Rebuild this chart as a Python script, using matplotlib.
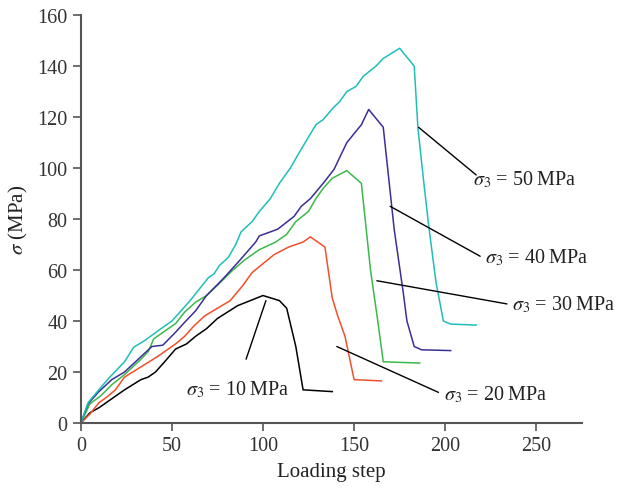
# Stress vs loading step curves at five confining pressures.
import matplotlib.pyplot as plt

plt.rcParams["font.family"] = "Liberation Serif"
plt.rcParams["mathtext.fontset"] = "stix"

# sigma_3 = 10 MPa
step_10 = [0, 5, 10, 16, 24, 33, 37, 41, 46, 52, 58, 63, 69, 75, 86, 100, 109, 113, 118, 122, 138]
sig_10 = [0, 4, 6, 9, 13, 17, 18, 20, 24, 29, 31, 34, 37, 41, 46, 50, 48, 45, 30, 13, 12.3]

# sigma_3 = 20 MPa
step_20 = [0, 5, 10, 14, 19, 24, 33, 42, 52, 57, 62, 68, 75, 82, 89, 94, 106, 114, 118, 122, 126,
           134, 138, 141, 145, 150, 165]
sig_20 = [0, 3.5, 8, 10, 13, 18, 22, 26, 31, 34, 38, 42, 45, 48, 54, 59, 66, 69, 70, 71, 73,
          69, 49, 42, 34, 17, 16.5]

# sigma_3 = 30 MPa
step_30 = [0, 5, 11, 17, 24, 33, 37, 40, 46, 52, 57, 63, 69, 75, 83, 90, 98, 107, 113, 118, 125,
           129, 133, 138, 146, 154, 159, 163, 166, 186]
sig_30 = [0, 7.5, 10.7, 15, 19, 25, 28, 33, 36, 39, 43.5, 47.4, 50, 54, 59.7, 64, 68, 71, 74, 79, 83,
          88, 92, 96, 99, 94, 60, 40, 24, 23.5]

# sigma_3 = 40 MPa
step_40 = [0, 4, 9.5, 17, 20.5, 24, 33, 39, 45, 52, 57, 63, 69, 78, 87, 96, 98, 108, 117, 121,
           126, 133, 139, 146, 154, 158, 166, 169, 172, 177, 179, 183, 187, 203]
sig_40 = [0, 7.5, 12, 17, 18.5, 20, 26, 30, 30.5, 35.6, 39.5, 44, 50, 56.5, 63.6, 71, 73.4, 76, 81, 85,
          88, 94, 99.5, 110, 117, 123, 116, 96, 76, 51, 40, 30, 28.7, 28.4]

# sigma_3 = 50 MPa
step_50 = [0, 4, 9.5, 15, 24, 29, 35, 44, 50, 55, 60, 65, 70, 73, 76, 81, 85, 88, 94, 98, 104,
           109, 115, 119, 124, 129, 133, 139, 142, 146, 151, 155, 162, 166, 175, 183, 185, 188,
           191, 195, 199, 203, 217]
sig_50 = [0, 8, 12.7, 17.3, 24, 29.7, 32.3, 37, 40, 44, 48, 52.5, 57, 58.4, 61.7, 65, 70, 75, 79, 83, 88,
          94, 100, 105, 111, 117, 119, 124, 126, 130, 132, 136, 140, 143, 147, 140, 116, 96,
          77, 55, 40, 38.8, 38.4]

labels = ["10", "20", "30", "40", "50"]

series = [
    (step_10, sig_10, "black"),
    (step_20, sig_20, "#f0502a"),
    (step_30, sig_30, "#3cb84a"),
    (step_40, sig_40, "#3a2f96"),
    (step_50, sig_50, "#1fbfb8"),
]

# leader line: point on curve -> text anchor, plus text alignment
callouts = {
    "10": ((101.6, 48), (90.7, 25), (86, 13.5), "center"),
    "20": ((140.5, 30), (196.3, 12), (199.5, 11.4), "left"),
    "30": ((162.5, 55.8), (233.9, 46.7), (236.5, 46.5), "left"),
    "40": ((169.8, 85), (219.2, 65.4), (222, 65), "left"),
    "50": ((185.4, 116), (217, 97.3), (215, 95.7), "left"),
}

fig = plt.figure(figsize=(6.17, 4.89), dpi=100)
ax = fig.add_axes([0.131, 0.133, 0.812, 0.834])

for x, y, c in series:
    ax.plot(x, y, color=c, lw=1.1)

for lab in labels:
    (x0, y0), (x1, y1), (tx, ty), ha = callouts[lab]
    ax.annotate("", xy=(x0, y0), xytext=(x1, y1),
                arrowprops=dict(arrowstyle="-", color="black", lw=1.0,
                                shrinkA=0, shrinkB=0))
    ax.text(tx, ty, r"$\sigma_3$ = " + lab + "\u2009MPa", ha=ha, va="center",
            fontsize=14.5, color="#222222", family=["Liberation Serif", "DejaVu Sans"])

ax.set_xlim(0, 275)
ax.set_ylim(0, 160)
ax.set_xticks([0, 50, 100, 150, 200, 250])
ax.set_yticks(range(0, 161, 20))
ax.set_xlabel("Loading step", fontsize=15, labelpad=5, color="#222222")
ax.set_ylabel(r"$\sigma$ (MPa)", fontsize=15, labelpad=5, color="#222222")

for side in ["top", "right"]:
    ax.spines[side].set_visible(False)
for side in ["left", "bottom"]:
    ax.spines[side].set_color("#555555")
    ax.spines[side].set_linewidth(1.5)
ax.tick_params(colors="#555555", labelcolor="#333333", labelsize=14.5, length=6, width=1.2)

plt.savefig("out.png", dpi=100)
